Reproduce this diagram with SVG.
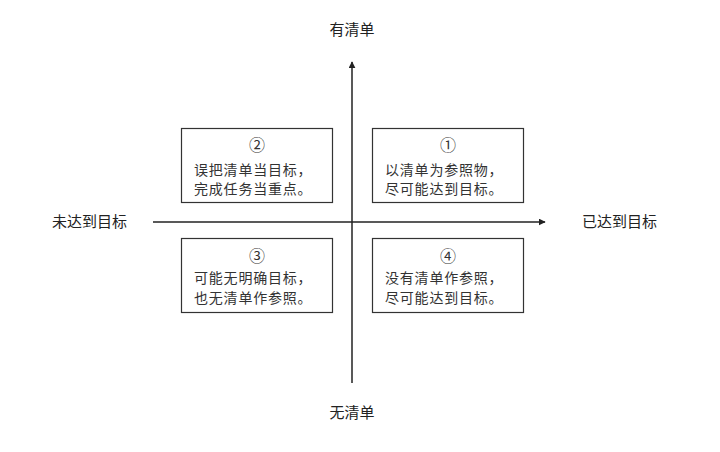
<svg xmlns="http://www.w3.org/2000/svg" width="720" height="452" viewBox="0 0 720 452">
<style>
text{font-family:"Noto Sans CJK SC","Noto Sans",sans-serif;fill:#333}
.ax{font-size:15px;fill:#222}
.bx{font-size:14px;letter-spacing:0.8px}
.num{font-size:16px;text-anchor:middle}
.box{fill:#fff;stroke:#333;stroke-width:1.2}
.ln{stroke:#222;stroke-width:1.5;fill:none}
</style>
<defs>
<marker id="ah" viewBox="0 0 10 10" refX="9" refY="5" markerWidth="7" markerHeight="7" orient="auto" markerUnits="userSpaceOnUse">
<path d="M0,0 L10,5 L0,10 z" fill="#222"/>
</marker>
</defs>
<rect width="720" height="452" fill="#fff"/>
<g id="connectors">
<line class="ln" x1="352" y1="383" x2="352" y2="62" marker-end="url(#ah)"/>
<line class="ln" x1="153" y1="222" x2="545" y2="222" marker-end="url(#ah)"/>
</g>
<g id="label-top"><text class="ax" x="352" y="35" text-anchor="middle">有清单</text></g>
<g id="label-bottom"><text class="ax" x="352" y="418" text-anchor="middle">无清单</text></g>
<g id="label-left"><text class="ax" x="52" y="227">未达到目标</text></g>
<g id="label-right"><text class="ax" x="582" y="227">已达到目标</text></g>
<g id="q2">
<rect class="box" x="181.5" y="128.5" width="151" height="74"/>
<text class="num" x="257" y="151">②</text>
<text class="bx" x="194" y="175">误把清单当目标，</text>
<text class="bx" x="194" y="194">完成任务当重点。</text>
</g>
<g id="q1">
<rect class="box" x="372.5" y="128.5" width="151" height="74"/>
<text class="num" x="448" y="151">①</text>
<text class="bx" x="385" y="175">以清单为参照物，</text>
<text class="bx" x="385" y="194">尽可能达到目标。</text>
</g>
<g id="q3">
<rect class="box" x="181.5" y="238.5" width="151" height="74"/>
<text class="num" x="257" y="262">③</text>
<text class="bx" x="194" y="283">可能无明确目标，</text>
<text class="bx" x="194" y="303">也无清单作参照。</text>
</g>
<g id="q4">
<rect class="box" x="372.5" y="238.5" width="151" height="74"/>
<text class="num" x="448" y="262">④</text>
<text class="bx" x="385" y="283">没有清单作参照，</text>
<text class="bx" x="385" y="303">尽可能达到目标。</text>
</g>
</svg>
